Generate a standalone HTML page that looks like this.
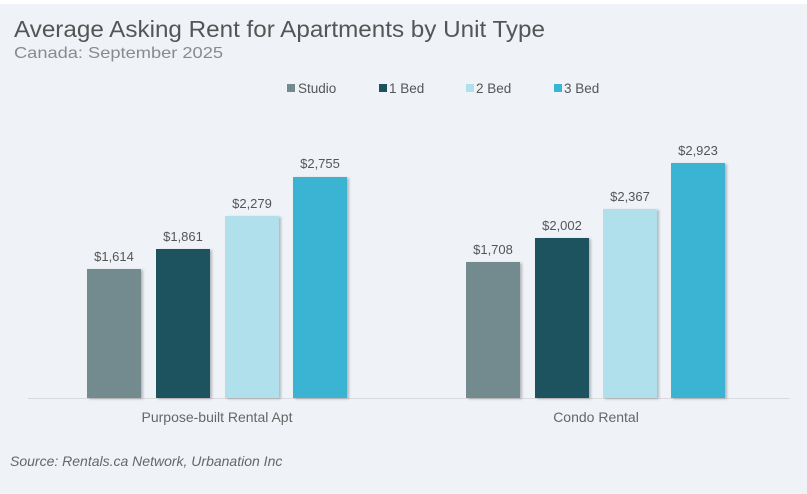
<!DOCTYPE html><html><head><style>
body{margin:0;width:807px;height:494px;background:#fff;font-family:"Liberation Sans",sans-serif;overflow:hidden}
#c{position:absolute;left:0;top:4px;width:807px;height:490px;background:#eff3f8}
</style></head><body><div id="c"></div>
<svg width="807" height="494" style="position:absolute;left:0;top:0" font-family="Liberation Sans, sans-serif">
<text x="14" y="37" font-size="23" fill="#555" textLength="531" lengthAdjust="spacingAndGlyphs">Average Asking Rent for Apartments by Unit Type</text>
<text x="14" y="58" font-size="16" fill="#8a8a8a" textLength="209" lengthAdjust="spacingAndGlyphs">Canada: September 2025</text>
<g font-size="13.5" fill="#555">
<rect x="287" y="84" width="8" height="8" fill="#738b8e"/><text x="298" y="93">Studio</text>
<rect x="379" y="84" width="8" height="8" fill="#1c525e"/><text x="389" y="93">1 Bed</text>
<rect x="466" y="84" width="8" height="8" fill="#b0e0ec"/><text x="476" y="93">2 Bed</text>
<rect x="554" y="84" width="8" height="8" fill="#3ab4d4"/><text x="564" y="93">3 Bed</text>
</g>
<line x1="28" y1="398.5" x2="790" y2="398.5" stroke="#d8dadd"/>
<defs><filter id="s" x="-20%" y="-20%" width="140%" height="140%"><feDropShadow dx="2" dy="1" stdDeviation="1.2" flood-color="#000" flood-opacity="0.25"/></filter></defs>
<g filter="url(#s)">
<rect x="87" y="269" width="54" height="129" fill="#738b8e"/>
<rect x="156" y="249" width="54" height="149" fill="#1c525e"/>
<rect x="225" y="216" width="54" height="182" fill="#b0e0ec"/>
<rect x="293" y="177" width="54" height="221" fill="#3ab4d4"/>
<rect x="466" y="262" width="54" height="136" fill="#738b8e"/>
<rect x="535" y="238" width="54" height="160" fill="#1c525e"/>
<rect x="603" y="209" width="54" height="189" fill="#b0e0ec"/>
<rect x="671" y="163" width="54" height="235" fill="#3ab4d4"/>
</g>
<g font-size="13" fill="#555" text-anchor="middle">
<text x="114" y="261">$1,614</text><text x="183" y="241">$1,861</text>
<text x="252" y="208">$2,279</text><text x="320" y="168">$2,755</text>
<text x="493" y="254">$1,708</text><text x="562" y="230">$2,002</text>
<text x="630" y="201">$2,367</text><text x="698" y="155">$2,923</text>
<text x="217" y="422" font-size="14" fill="#666">Purpose-built Rental Apt</text>
<text x="596" y="422" font-size="14" fill="#666">Condo Rental</text>
</g>
<text x="10" y="466" font-size="14" font-style="italic" fill="#666">Source: Rentals.ca Network, Urbanation Inc</text>
</svg></body></html>
